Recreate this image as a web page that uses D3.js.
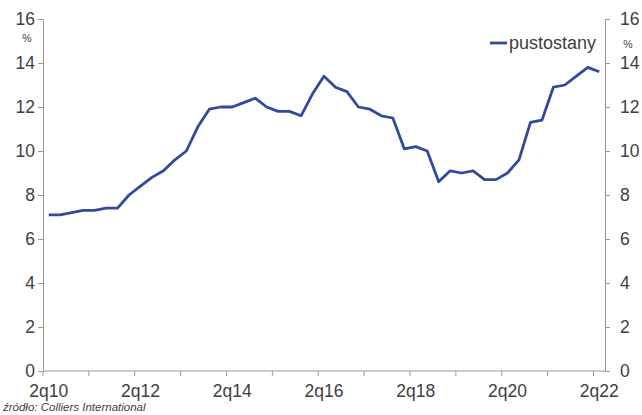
<!DOCTYPE html>
<html lang="pl">
<head>
<meta charset="UTF-8">
<title>pustostany</title>
<script src="https://d3js.org/d3.v7.min.js"></script>
<style>
  body { margin: 0; background: #fff; font-family: Arial, "Liberation Sans", sans-serif; }
  .tick text { fill: #404040; font-size: 17.5px; }
  .domain, .tick line { stroke: #999; }
</style>
</head>
<body>
<div id="chart"></div>
<script>
// quarters 2q10 .. 2q22
const quarters = [];
for (let yr = 10; yr <= 22; yr++) {
  for (let q = 1; q <= 4; q++) {
    if ((yr === 10 && q < 2) || (yr === 22 && q > 2)) continue;
    quarters.push(q + "q" + yr);
  }
}

const vacancy = [
  7.1, 7.1, 7.2,
  7.3, 7.3, 7.4, 7.4,
  8.0, 8.4, 8.8, 9.1,
  9.6, 10.0, 11.1, 11.9,
  12.0, 12.0, 12.2, 12.4,
  12.0, 11.8, 11.8, 11.6,
  12.6, 13.4, 12.9, 12.7,
  12.0, 11.9, 11.6, 11.5,
  10.1, 10.2, 10.0, 8.6,
  9.1, 9.0, 9.1, 8.7,
  8.7, 9.0, 9.6, 11.3,
  11.4, 12.9, 13.0, 13.4,
  13.8, 13.6
];

const yTicks = [0, 2, 4, 6, 8, 10, 12, 14, 16];
const seriesName = "pustostany";
const source = "źródło: Colliers International";

const W = 642, H = 415;
const plotLeft = 43, plotRight = 605, plotTop = 19, plotBottom = 371;

const svg = d3.select("#chart").append("svg")
  .attr("width", W).attr("height", H);

const x = d3.scaleBand().domain(quarters).range([plotLeft, plotRight]);
const y = d3.scaleLinear().domain([0, 16]).range([plotBottom, plotTop]);

// x axis: ticks between categories every 4 quarters, labels every 8
const tickQs = quarters.filter((d, i) => i % 4 === 0);
const xAxis = svg.append("g").attr("transform", `translate(0,${plotBottom})`);
xAxis.append("line")
  .attr("x1", plotLeft).attr("x2", plotRight).attr("y1", 0).attr("y2", 0)
  .attr("stroke", "#999");
xAxis.selectAll(".xt").data(tickQs).enter().append("line")
  .attr("x1", d => x(d)).attr("x2", d => x(d))
  .attr("y1", 0).attr("y2", 5).attr("stroke", "#999");
xAxis.selectAll(".xl").data(quarters.filter((d, i) => i % 8 === 0)).enter().append("text")
  .attr("x", d => x(d) + x.bandwidth() / 2)
  .attr("y", 26)
  .attr("text-anchor", "middle")
  .attr("fill", "#404040")
  .style("font-size", "17.5px")
  .text(d => d);

// y axes
svg.append("g")
  .attr("transform", `translate(${plotLeft},0)`)
  .call(d3.axisLeft(y).tickValues(yTicks).tickSize(5).tickSizeOuter(0).tickPadding(3));
svg.append("g")
  .attr("transform", `translate(${plotRight},0)`)
  .call(d3.axisRight(y).tickValues(yTicks).tickSize(5).tickSizeOuter(0).tickPadding(10));

svg.append("text").attr("x", 27).attr("y", 42).attr("text-anchor", "middle")
  .attr("fill", "#404040").style("font-size", "10.5px").text("%");
svg.append("text").attr("x", 628).attr("y", 48).attr("text-anchor", "middle")
  .attr("fill", "#404040").style("font-size", "10.5px").text("%");

// line
const line = d3.line()
  .x((d, i) => x(quarters[i]) + x.bandwidth() / 2)
  .y(d => y(d));
svg.append("path").datum(vacancy)
  .attr("fill", "none")
  .attr("stroke", "#2f4a9f")
  .attr("stroke-width", 2.8)
  .attr("stroke-linejoin", "round")
  .attr("d", line);

// legend
const lg = svg.append("g").attr("transform", "translate(490,43)");
lg.append("line").attr("x1", 0).attr("x2", 17).attr("y1", 0).attr("y2", 0)
  .attr("stroke", "#2f4a9f").attr("stroke-width", 2.8);
lg.append("text").attr("x", 19).attr("y", 6)
  .attr("fill", "#404040").style("font-size", "18px").text(seriesName);

// source
svg.append("text").attr("x", 3).attr("y", 411)
  .attr("fill", "#404040").style("font-size", "11.5px").style("font-style", "italic")
  .text(source);
</script>
</body>
</html>
